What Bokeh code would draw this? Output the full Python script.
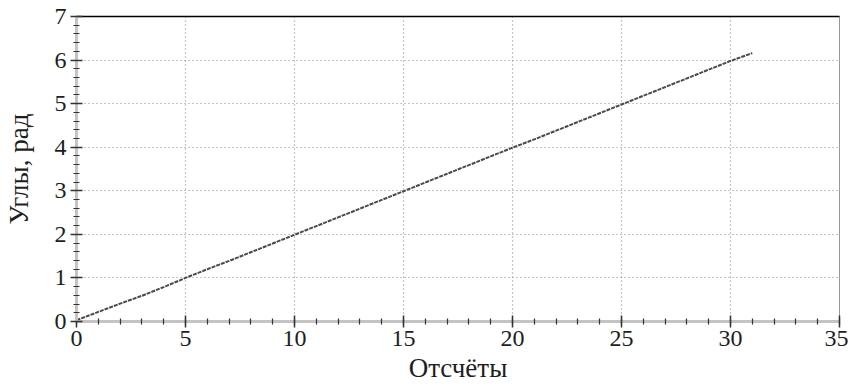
from bokeh.plotting import figure
from bokeh.models import LinearAxis, Range1d, FixedTicker
from bokeh.embed import file_html
from bokeh.resources import INLINE

# Data: sample index and angle (rad)
samples = list(range(32))
angles = [0.03, 0.22, 0.41, 0.59, 0.79, 1.00, 1.20, 1.39, 1.59, 1.79,
          1.99, 2.19, 2.39, 2.59, 2.79, 2.99, 3.19, 3.39, 3.59, 3.79,
          3.99, 4.18, 4.38, 4.58, 4.78, 4.98, 5.18, 5.38, 5.58, 5.78,
          5.98, 6.16]
x_ticks = [0, 5, 10, 15, 20, 25, 30, 35]
y_ticks = [0, 1, 2, 3, 4, 5, 6, 7]

FONT = "Liberation Serif"

p = figure(frame_width=763, frame_height=305, output_backend="svg", toolbar_location=None,
           x_range=Range1d(0, 35), y_range=Range1d(0, 7),
           min_border_left=75, min_border_right=9, min_border_top=16,
           min_border_bottom=60, x_axis_label="Отсчёты", y_axis_label="Углы, рад")

p.outline_line_color = "#999999"
p.outline_line_width = 1

for ax, ticks, minor in ((p.xaxis[0], x_ticks, list(range(36))),
                         (p.yaxis[0], y_ticks, [i * 0.2 for i in range(36)])):
    ax.ticker = FixedTicker(ticks=ticks, minor_ticks=minor)
    ax.axis_line_color = "#c4c4c4"
    ax.axis_line_width = 3
    ax.major_tick_line_color = "#333333"
    ax.minor_tick_line_color = "#333333"
    ax.major_tick_line_width = 1.5
    ax.minor_tick_line_width = 1.2
    ax.major_tick_in = 6
    ax.major_tick_out = 6
    ax.minor_tick_in = 3
    ax.minor_tick_out = 3
    ax.major_label_text_font = FONT
    ax.major_label_text_font_size = "24px"
    ax.major_label_text_color = "#1e1e1e"
    ax.axis_label_text_font = FONT
    ax.axis_label_text_font_size = "27px"
    ax.axis_label_text_font_style = "normal"
    ax.axis_label_text_color = "#1e1e1e"

p.xaxis[0].major_label_standoff = 3
p.xaxis[0].axis_label_standoff = 4
p.yaxis[0].major_label_standoff = 4
p.yaxis[0].axis_label_standoff = 18

# black top border
top = LinearAxis(ticker=FixedTicker(ticks=[]), major_label_text_font_size="0px",
                 axis_line_color="black", axis_line_width=1.5,
                 major_tick_line_color=None, minor_tick_line_color=None)
p.add_layout(top, "above")

p.xgrid.ticker = FixedTicker(ticks=x_ticks)
p.ygrid.ticker = FixedTicker(ticks=y_ticks)
for g in (p.xgrid[0], p.ygrid[0]):
    g.grid_line_color = "#8a8a8a"
    g.grid_line_dash = "1 3"
    g.grid_line_width = 1.2

p.line(samples, angles, line_color="#4a4a4a", line_width=2, line_dash="4 1")

open("out.html", "w").write(file_html(p, INLINE))
